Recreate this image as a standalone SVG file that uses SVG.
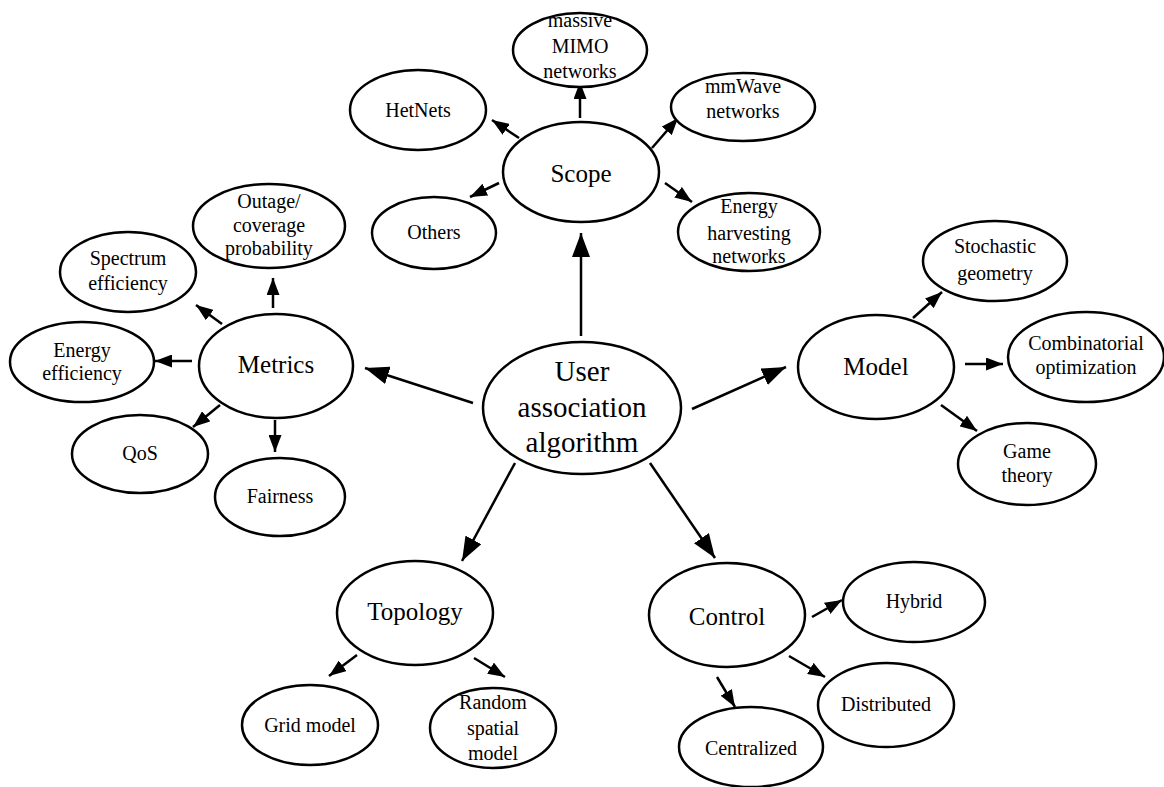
<svg xmlns="http://www.w3.org/2000/svg" width="1164" height="787" viewBox="0 0 1164 787">
<defs>
<marker id="ah" markerUnits="userSpaceOnUse" markerWidth="17" markerHeight="13" refX="17" refY="6.5" orient="auto"><path d="M0,0 L17,6.5 L0,13 z" fill="#000"/></marker>
<marker id="ahb" markerUnits="userSpaceOnUse" markerWidth="24" markerHeight="18" refX="24" refY="9" orient="auto"><path d="M0,0 L24,9 L0,18 z" fill="#000"/></marker>
<style>
ellipse{fill:#fff;stroke:#000;stroke-width:2.5}
text{fill:#000;text-anchor:middle}
.s{font-size:20px}
.m{font-size:25px}
.l{font-size:29px}
#edges line{stroke:#000;stroke-width:2.5}
.a{marker-end:url(#ah)}
.b{marker-end:url(#ahb)}
</style>
</defs>
<rect width="1164" height="787" fill="#fff"/>
<g id="edges">
<line class="b" x1="581" y1="336" x2="581" y2="233"/>
<line class="b" x1="473" y1="403" x2="365" y2="368"/>
<line class="b" x1="692" y1="409" x2="786" y2="367"/>
<line class="b" x1="515" y1="463" x2="462" y2="561"/>
<line class="b" x1="650" y1="463" x2="715" y2="558"/>
<line class="a" x1="580" y1="118" x2="580" y2="82"/>
<line class="a" x1="519" y1="138" x2="492" y2="120"/>
<line class="a" x1="652" y1="148" x2="678" y2="118"/>
<line class="a" x1="499" y1="183" x2="470" y2="197"/>
<line class="a" x1="665" y1="183" x2="692" y2="202"/>
<line class="a" x1="273" y1="308" x2="273" y2="278"/>
<line class="a" x1="222" y1="324" x2="196" y2="305"/>
<line class="a" x1="192" y1="361" x2="155" y2="361"/>
<line class="a" x1="220" y1="405" x2="193" y2="427"/>
<line class="a" x1="275" y1="420" x2="275" y2="452"/>
<line class="a" x1="913" y1="318" x2="942" y2="292"/>
<line class="a" x1="965" y1="364" x2="1003" y2="364"/>
<line class="a" x1="941" y1="405" x2="977" y2="431"/>
<line class="a" x1="357" y1="655" x2="329" y2="676"/>
<line class="a" x1="474" y1="658" x2="505" y2="677"/>
<line class="a" x1="812" y1="617" x2="842" y2="600"/>
<line class="a" x1="789" y1="656" x2="825" y2="677"/>
<line class="a" x1="717" y1="677" x2="735" y2="707"/>
</g>
<g font-family="Liberation Serif, serif">
<g id="center"><ellipse cx="582" cy="408" rx="99" ry="66"/><text class="l" x="582" y="381">User</text><text class="l" x="582" y="417">association</text><text class="l" x="582" y="452">algorithm</text></g>
<g id="scope"><ellipse cx="581" cy="172" rx="78" ry="50"/><text class="m" x="581" y="182">Scope</text></g>
<g id="mimo"><ellipse cx="580" cy="50" rx="67" ry="37"/><text class="s" x="580" y="27">massive</text><text class="s" x="580" y="53">MIMO</text><text class="s" x="580" y="78">networks</text></g>
<g id="hetnets"><ellipse cx="418" cy="110" rx="68" ry="40"/><text class="s" x="418" y="117">HetNets</text></g>
<g id="mmwave"><ellipse cx="743" cy="107" rx="72" ry="34"/><text class="s" x="743" y="93">mmWave</text><text class="s" x="743" y="118">networks</text></g>
<g id="others"><ellipse cx="434" cy="233" rx="62" ry="36"/><text class="s" x="434" y="239">Others</text></g>
<g id="harvest"><ellipse cx="749" cy="232" rx="71" ry="39"/><text class="s" x="749" y="213">Energy</text><text class="s" x="749" y="240">harvesting</text><text class="s" x="749" y="263">networks</text></g>
<g id="metrics"><ellipse cx="276" cy="366" rx="77" ry="52"/><text class="m" x="276" y="373">Metrics</text></g>
<g id="outage"><ellipse cx="269" cy="226" rx="76" ry="42"/><text class="s" x="269" y="208">Outage/</text><text class="s" x="269" y="232">coverage</text><text class="s" x="269" y="255">probability</text></g>
<g id="spectrum"><ellipse cx="128" cy="272" rx="68" ry="40"/><text class="s" x="128" y="265">Spectrum</text><text class="s" x="128" y="290">efficiency</text></g>
<g id="energy"><ellipse cx="82" cy="362" rx="72" ry="40"/><text class="s" x="82" y="357">Energy</text><text class="s" x="82" y="380">efficiency</text></g>
<g id="qos"><ellipse cx="140" cy="454" rx="68" ry="39"/><text class="s" x="140" y="460">QoS</text></g>
<g id="fairness"><ellipse cx="280" cy="497" rx="65" ry="39"/><text class="s" x="280" y="503">Fairness</text></g>
<g id="model"><ellipse cx="876" cy="367" rx="78" ry="52"/><text class="m" x="876" y="375">Model</text></g>
<g id="stochastic"><ellipse cx="995" cy="261" rx="72" ry="40"/><text class="s" x="995" y="253">Stochastic</text><text class="s" x="995" y="280">geometry</text></g>
<g id="combinatorial"><ellipse cx="1086" cy="357" rx="78" ry="45"/><text class="s" x="1086" y="350">Combinatorial</text><text class="s" x="1086" y="374">optimization</text></g>
<g id="game"><ellipse cx="1027" cy="464" rx="69" ry="41"/><text class="s" x="1027" y="458">Game</text><text class="s" x="1027" y="482">theory</text></g>
<g id="topology"><ellipse cx="415" cy="613" rx="78" ry="52"/><text class="m" x="415" y="620">Topology</text></g>
<g id="grid"><ellipse cx="310" cy="725" rx="68" ry="40"/><text class="s" x="310" y="732">Grid model</text></g>
<g id="random"><ellipse cx="493" cy="728" rx="63" ry="40"/><text class="s" x="493" y="709">Random</text><text class="s" x="493" y="735">spatial</text><text class="s" x="493" y="760">model</text></g>
<g id="control"><ellipse cx="727" cy="615" rx="78" ry="52"/><text class="m" x="727" y="625">Control</text></g>
<g id="hybrid"><ellipse cx="914" cy="602" rx="71" ry="40"/><text class="s" x="914" y="608">Hybrid</text></g>
<g id="distributed"><ellipse cx="886" cy="705" rx="68" ry="42"/><text class="s" x="886" y="711">Distributed</text></g>
<g id="centralized"><ellipse cx="751" cy="747" rx="72" ry="40"/><text class="s" x="751" y="755">Centralized</text></g>
</g>
</svg>
